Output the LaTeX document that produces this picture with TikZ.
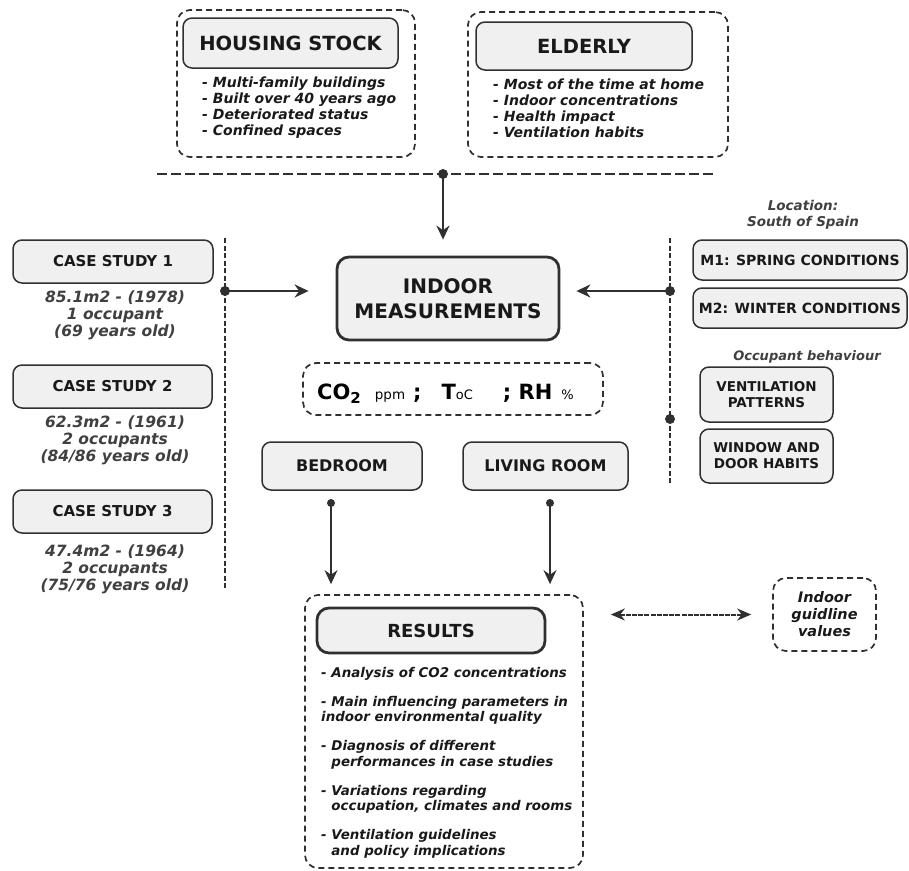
\documentclass[tikz,border=0pt]{standalone}
\usepackage{fontspec}
\setmainfont{DejaVu Sans}[BoldFont={DejaVu Sans Bold},ItalicFont={DejaVu Sans Oblique},BoldItalicFont={DejaVu Sans Bold Oblique}]
\usetikzlibrary{arrows.meta}
\definecolor{linec}{HTML}{303030}
\definecolor{boxfill}{HTML}{F0F0F0}
\definecolor{notec}{HTML}{404040}
\newcommand{\fs}[2]{\fontsize{#1}{#2}\selectfont}
\tikzset{
  hbox/.style={draw=linec, fill=boxfill, line width=1.5pt, rounded corners=9pt, font=\bfseries\fs{15}{18}, text=black!90, inner sep=0pt, align=center},
  hboxthick/.style={hbox, line width=2.8pt, rounded corners=12pt},
  frame/.style={draw=linec, line width=1.7pt, dash pattern=on 6pt off 4pt, rounded corners=13pt, inner sep=0pt},
  vline/.style={draw=linec, line width=1.8pt, dash pattern=on 5pt off 2.5pt},
  note/.style={font=\bfseries\itshape\fs{15.5}{17}, align=center, text=notec, inner sep=0pt},
  list/.style={font=\bfseries\itshape\fs{14}{16}, align=left, text=black!90, inner sep=0pt, anchor=north west},
  dot/.style={circle, fill=linec, inner sep=0pt, minimum size=10pt},
  link/.style={draw=linec, line width=2.2pt, ->},
}
\begin{document}
\begin{tikzpicture}[x=1pt, y=-1pt, >={Stealth[length=14pt,width=13pt]}, line join=round]
\useasboundingbox (0,0) rectangle (909,870);
% top blocks
\node[frame, minimum width=238, minimum height=147] (housingframe) at (296,83.5) {};
\node[hbox, font=\bfseries\fs{19.5}{22}, minimum width=215, minimum height=50] (housing) at (290.5,43) {HOUSING STOCK};
\node[list] (housinglist) at (202,77) {- Multi-family buildings\\- Built over 40 years ago\\- Deteriorated status\\- Confined spaces};
\node[frame, minimum width=260, minimum height=145] (elderlyframe) at (598,84.5) {};
\node[hbox, font=\bfseries\fs{19.5}{22}, minimum width=216, minimum height=48] (elderly) at (584,46) {ELDERLY};
\node[list] (elderlylist) at (493,79) {- Most of the time at home\\- Indoor concentrations\\- Health impact\\- Ventilation habits};
\draw[vline, dash pattern=on 10pt off 4pt, line width=2pt] (157,174) -- (713,174);
\node[dot] (topdot) at (443,174) {};
% measurements
\node[hboxthick, font=\bfseries\fs{20}{25}, minimum width=222, minimum height=83] (meas) at (448,298.5) {INDOOR\\MEASUREMENTS};
\node[frame, minimum width=300, minimum height=52] (varsframe) at (453,389) {};
\node[font=\bfseries, inner sep=0pt, anchor=base west] (vars) at (317,399)
  {{\fs{21}{24}CO\raisebox{-4pt}{\fs{15}{15}2}}\hspace{14pt}{\mdseries\fs{13.5}{14}ppm}\hspace{8pt}{\fs{21}{24};}\hspace{20pt}{\fs{21}{24}T}{\mdseries\fs{13}{14}oC}\hspace{30pt}{\fs{21}{24}; RH}\hspace{9pt}{\mdseries\fs{13}{14}\%}};
\node[hbox, font=\bfseries\fs{16}{18}, minimum width=160, minimum height=48] (bedroom) at (342,466) {BEDROOM};
\node[hbox, font=\bfseries\fs{16}{18}, minimum width=165, minimum height=48] (living) at (545.5,466) {LIVING ROOM};
\draw[link, shorten >=16pt] (topdot.center) -- (topdot.center |- meas.north);
% case studies
\node[hbox, minimum width=200, minimum height=43] (case1) at (113,261.5) {CASE STUDY 1};
\node[note, anchor=north] (case1note) at (115,291) {85.1m2 - (1978)\\1 occupant\\(69 years old)};
\node[hbox, minimum width=199, minimum height=43] (case2) at (112.5,386.5) {CASE STUDY 2};
\node[note, anchor=north] (case2note) at (115,416) {62.3m2 - (1961)\\2 occupants\\(84/86 years old)};
\node[hbox, minimum width=199, minimum height=43] (case3) at (112.5,511.5) {CASE STUDY 3};
\node[note, anchor=north] (case3note) at (115,545) {47.4m2 - (1964)\\2 occupants\\(75/76 years old)};
\draw[vline] (225,238) -- (225,590);
\node[dot] (leftdot) at (225,291) {};
\draw[link, shorten >=27pt] (leftdot.center) -- (leftdot.center -| meas.west);
% conditions
\node[note, font=\bfseries\itshape\fs{13.5}{16}, anchor=north] (location) at (803,200) {Location:\\South of Spain};
\node[hbox, font=\bfseries\fs{14}{17}, minimum width=214, minimum height=40] (spring) at (800,260) {M1: SPRING CONDITIONS};
\node[hbox, font=\bfseries\fs{14}{17}, minimum width=214, minimum height=40] (winter) at (800,308) {M2: WINTER CONDITIONS};
\node[note, font=\bfseries\itshape\fs{13}{16}, anchor=base] (occupant) at (807,360) {Occupant behaviour};
\node[hbox, font=\bfseries\fs{13.5}{16}, minimum width=133, minimum height=55] (ventpat) at (766.5,394.5) {VENTILATION\\PATTERNS};
\node[hbox, font=\bfseries\fs{13.5}{16}, minimum width=133, minimum height=54] (habits) at (766.5,456) {WINDOW AND\\DOOR HABITS};
\draw[vline] (670,238) -- (670,483);
\node[dot] (rightdot) at (670,291) {};
\node[dot] (rightdot2) at (670,419) {};
\draw[link, shorten >=16pt] (rightdot.center) -- (rightdot.center -| meas.east);
% results
\node[frame, minimum width=278, minimum height=273] (resframe) at (444,731.5) {};
\node[hboxthick, font=\bfseries\fs{18}{22}, minimum width=228, minimum height=45] (results) at (431,630.5) {RESULTS};
\node[list, font=\bfseries\itshape\fs{13.4}{15.5}] (reslist) at (321,667)
  {- Analysis of CO2 concentrations\\[13.5pt]
   - Main influencing parameters in\\indoor environmental quality\\[13.5pt]
   - Diagnosis of different\\\phantom{- }performances in case studies\\[13.5pt]
   - Variations regarding\\\phantom{- }occupation, climates and rooms\\[13.5pt]
   - Ventilation guidelines\\\phantom{- }and policy implications};
\node[dot, minimum size=8pt] (beddot) at (331,503) {};
\node[dot, minimum size=8pt] (livdot) at (550,503) {};
\draw[link, line width=1.8pt, shorten >=10pt] (beddot.center) -- (beddot.center |- resframe.north);
\draw[link, line width=1.8pt, shorten >=10pt] (livdot.center) -- (livdot.center |- resframe.north);
\node[frame, note, text=black!90, font=\bfseries\itshape\fs{14.5}{17}, minimum width=103, minimum height=73] (guide) at (824.5,614.5) {Indoor\\guidline\\values};
\draw[draw=linec, line width=2pt, dash pattern=on 5pt off 1.2pt, {Stealth[length=14pt,width=12pt,sep=0pt]}-{Stealth[length=14pt,width=12pt,sep=0pt]}, shorten <=21pt, shorten >=27pt] (guide.west) -- (guide.west -| resframe.east);
\end{tikzpicture}
\end{document}
